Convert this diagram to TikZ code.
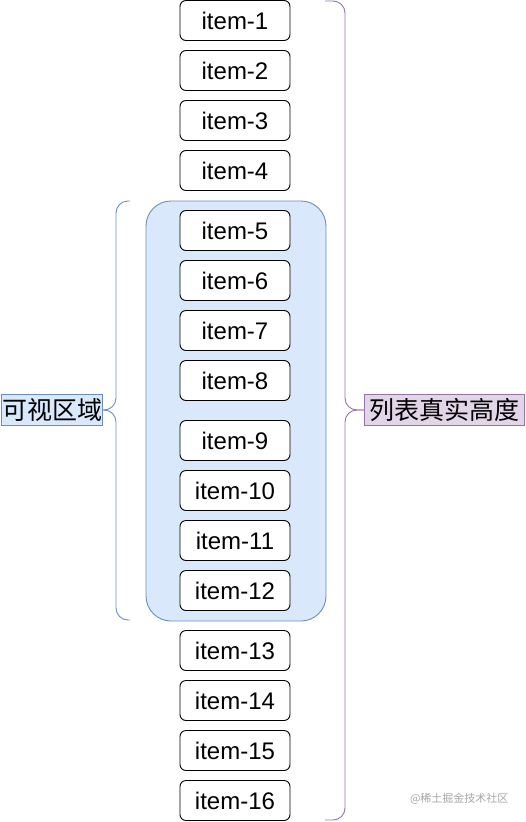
\documentclass[tikz,border=0pt]{standalone}
\usepackage{fontspec}
\setmainfont{Liberation Sans}
\newfontfamily\cjk{Noto Sans CJK SC}
\definecolor{bluefill}{HTML}{DAE8FC}
\definecolor{bluestroke}{HTML}{6C8EBF}
\definecolor{purplefill}{HTML}{E1D5E7}
\definecolor{purplestroke}{HTML}{9673A6}
\tikzset{
  itembox/.style={draw=black, line width=0.9pt, rounded corners=6pt, minimum width=110pt, minimum height=40pt, inner sep=0pt, font=\fontsize{24}{28}\selectfont},
  labelbox/.style={line width=0.9pt, minimum height=31pt, inner sep=0pt, font=\cjk\fontsize{25}{28}\selectfont},
  bracepath/.style={line width=0.9pt, rounded corners=12pt},
}
\begin{document}
\begin{tikzpicture}[x=1pt,y=-1pt]
\useasboundingbox (0,0) rectangle (526,822);
\node[draw=bluestroke, fill=bluefill, line width=0.9pt, rounded corners=25pt, minimum width=180pt, minimum height=420pt, inner sep=0pt] (view) at (236,411) {};
\foreach \i/\y in {1/20.5,2/70.5,3/120.5,4/170.5,5/230.5,6/280.5,7/330.5,8/380.5,9/440.5,10/490.5,11/540.5,12/590.5,13/650.5,14/700.5,15/750.5,16/800.5}{
  \node[itembox, fill=white] (item\i) at (235,\y) {item-\i};
}
% left brace
\coordinate (lt) at (130,201);
\coordinate (lb) at (130,620);
\coordinate (ltip) at (103,410);
\draw[bracepath, draw=bluestroke] (lt) -- (116,201) -- (116,410) -- (ltip);
\draw[bracepath, draw=bluestroke] (ltip) -- (116,410) -- (116,620) -- (lb);
\node[labelbox, draw=bluestroke, fill=bluefill, minimum width=101pt, anchor=east] (vis) at (ltip) {可视区域};
% right brace
\coordinate (rt) at (325,1);
\coordinate (rb) at (325,820);
\coordinate (rtip) at (364,410);
\draw[bracepath, draw=purplestroke] (rt) -- (345,1) -- (345,410) -- (rtip);
\draw[bracepath, draw=purplestroke] (rtip) -- (345,410) -- (345,820) -- (rb);
\node[labelbox, draw=purplestroke, fill=purplefill, minimum width=160pt, anchor=west] (real) at (rtip) {列表真实高度};
\node[font=\cjk\fontsize{11}{13}\selectfont, text=black!35, anchor=east] (wm) at (512,799) {@稀土掘金技术社区};
\end{tikzpicture}
\end{document}
